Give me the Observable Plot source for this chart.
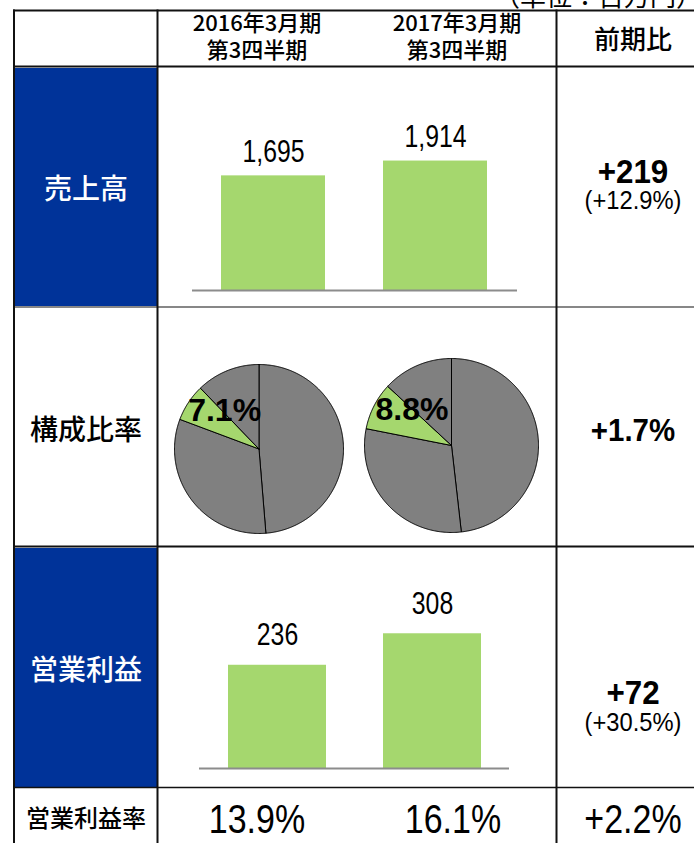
<!DOCTYPE html>
<html><head><meta charset="utf-8">
<script src="https://cdn.jsdelivr.net/npm/d3@7"></script>
<script src="https://cdn.jsdelivr.net/npm/@observablehq/plot@0.6"></script>
<style>
body{margin:0;background:#fff}
#c{position:relative;width:694px;height:843px;overflow:hidden;background:#fff}
.chart{position:absolute}
.chart svg{overflow:visible;display:block}
</style></head><body><div id="c"></div>
<script>
// ---- data ----
const periods = ["2016年3月期", "2017年3月期"];
const periodSub = ["第3四半期", "第3四半期"];
const rowLabels = ["売上高", "構成比率", "営業利益", "営業利益率"];
const sales = [1695, 1914];
const shares = [7.1, 8.8];               // green slice (%)
const otherShares = [[48.7, 32.0, 12.2], [48.2, 29.9, 13.1]]; // grey slices (%)
const profit = [236, 308];
const profitMargin = [13.9, 16.1];
const diffMain = ["+219", "+1.7%", "+72", "+2.2%"];
const diffSub = ["(+12.9%)", "", "(+30.5%)", ""];
const unitLabel = "（単位：百万円）";
const colHeader = "前期比";

const GREEN = "#a5d76e", GREY = "#808080", BLUE = "#003399";
const SANS = "'Liberation Sans',Arial,sans-serif";
const CJK = "'Noto Sans CJK JP',sans-serif";
const NARROW_X = 0.8;

const root = document.getElementById("c");
function place(el, left, top) {
  const d = document.createElement("div");
  d.className = "chart";
  d.style.left = left + "px"; d.style.top = top + "px";
  d.appendChild(el); root.appendChild(d);
}
function condense(svg, sx) {
  d3.select(svg).selectAll('g[aria-label="text"] text')
    .attr("transform", function () { return (this.getAttribute("transform") || "") + ` scale(${sx},1)`; });
  return svg;
}

// ---- bar charts ----
function bars(values, o) {
  const data = periods.map((p, i) => ({p, v: values[i]}));
  return condense(Plot.plot({
    width: o.width, height: o.height,
    marginLeft: o.ml, marginRight: o.mr, marginTop: o.mt, marginBottom: o.mb,
    x: {domain: periods, paddingInner: o.pi, paddingOuter: o.po, axis: null},
    y: {domain: [0, o.ymax], axis: null},
    marks: [
      Plot.barY(data, {x: "p", y: "v", fill: GREEN}),
      Plot.ruleY([0], {stroke: "#8c8c8c", strokeWidth: 2}),
      Plot.text(data, {x: "p", y: "v", text: d => d3.format(",")(d.v), lineAnchor: "bottom", dy: o.dy,
        fontSize: 31, fontFamily: SANS, fill: "#000"})
    ]
  }), NARROW_X);
}
place(bars(sales, {width: 395, height: 235, ml: 32, mr: 38, mt: 10, mb: 15, pi: 0.357, po: 0.178, ymax: 3105, dy: -14}), 160, 70);
place(bars(profit, {width: 395, height: 235, ml: 39, mr: 46, mt: 10, mb: 17, pi: 0.368, po: 0.181, ymax: 475.5, dy: -20}), 160, 550);

// ---- pies ----
function pie(i, r) {
  const vals = [otherShares[i][0], otherShares[i][1], shares[i], otherShares[i][2]];
  const cols = [GREY, GREY, GREEN, GREY];
  const arcs = d3.pie().sort(null)(vals);
  const slices = arcs.map((a, k) => {
    const pts = [{x: 0, y: 0}];
    const n = Math.max(2, Math.ceil((a.endAngle - a.startAngle) / 0.01));
    for (let j = 0; j <= n; j++) {
      const t = a.startAngle + (a.endAngle - a.startAngle) * j / n;
      pts.push({x: Math.sin(t), y: Math.cos(t)});
    }
    pts.push({x: 0, y: 0});
    return {pts, color: cols[k]};
  });
  const g = arcs[2];
  const la = (g.startAngle + g.endAngle) / 2 + 0.26;
  const label = [{x: 0.61 * Math.sin(la), y: 0.61 * Math.cos(la), t: shares[i].toFixed(1) + "%"}];
  return Plot.plot({
    width: 2 * r + 4, height: 2 * r + 4, margin: 2,
    x: {domain: [-1, 1], axis: null}, y: {domain: [-1, 1], axis: null},
    marks: [
      ...slices.map(s => Plot.line(s.pts, {x: "x", y: "y", fill: s.color, stroke: "#000", strokeWidth: 1, strokeLinejoin: "round"})),
      Plot.text(label, {x: "x", y: "y", text: "t", fontSize: 32, fontWeight: "bold", fontFamily: SANS, fill: "#000"})
    ]
  });
}
place(pie(0, 84.5), 258 - 84.5 - 2, 448.5 - 84.5 - 2);
place(pie(1, 87), 451 - 87 - 2, 445 - 87 - 2);

// ---- table overlay ----
const ov = d3.select(root).append("svg").attr("width", 694).attr("height", 843)
  .style("position", "absolute").style("left", 0).style("top", 0).style("pointer-events", "none");
ov.selectAll("rect.b").data([[68, 306], [548, 787]]).join("rect")
  .attr("x", 15).attr("y", d => d[0]).attr("width", 142).attr("height", d => d[1] - d[0]).attr("fill", BLUE);
const hLines = [[10.5, 2], [66.5, 2], [307, 1.2], [546.5, 2], [787.5, 1.5]];
ov.selectAll("line.h").data(hLines).join("line")
  .attr("x1", 13).attr("x2", 700).attr("y1", d => d[0]).attr("y2", d => d[0])
  .attr("stroke", "#111").attr("stroke-width", d => d[1]);
ov.selectAll("line.v").data([14, 157.5, 556.5]).join("line")
  .attr("x1", d => d).attr("x2", d => d).attr("y1", 9.5).attr("y2", 843)
  .attr("stroke", "#111").attr("stroke-width", 2);

function txt(s, x, y, size, font, opts = {}) {
  ov.append("text").attr("transform", `translate(${x},${y}) scale(${opts.sx || 1},1)`)
    .attr("text-anchor", opts.anchor || "middle")
    .attr("font-size", size).attr("font-family", font).attr("font-weight", opts.weight || "normal")
    .attr("fill", opts.fill || "#000").text(s);
}
txt(unitLabel, 702, 6, 26, CJK, {anchor: "end"});
const colX = [257, 457];
periods.forEach((p, i) => { txt(p, colX[i], 31, 22, CJK, {weight: 500}); txt(periodSub[i], colX[i], 58, 22, CJK, {weight: 500}); });
txt(colHeader, 633, 49, 26, CJK, {weight: 500});
const rowY = [199, 440, 680, 827];
const rowSize = [28, 28, 28, 24];
const rowFill = ["#fff", "#000", "#fff", "#000"];
rowLabels.forEach((l, i) => txt(l, 86, rowY[i], rowSize[i], CJK, {fill: rowFill[i], weight: 500}));
const mainY = [183, 441, 704, 833];
const subY = [209, 0, 731, 0];
diffMain.forEach((s, i) => {
  if (i === 3) txt(s, 633, mainY[i], 40, SANS, {sx: 0.85});
  else txt(s, 633, mainY[i], i === 1 ? 31 : 33, SANS, {weight: "bold", sx: 0.95});
  if (diffSub[i]) txt(diffSub[i], 633, subY[i], 25, SANS, {sx: 0.95});
});
profitMargin.forEach((m, i) => txt(m.toFixed(1) + "%", [257, 453][i], 833, 40, SANS, {sx: 0.85}));
</script></body></html>
